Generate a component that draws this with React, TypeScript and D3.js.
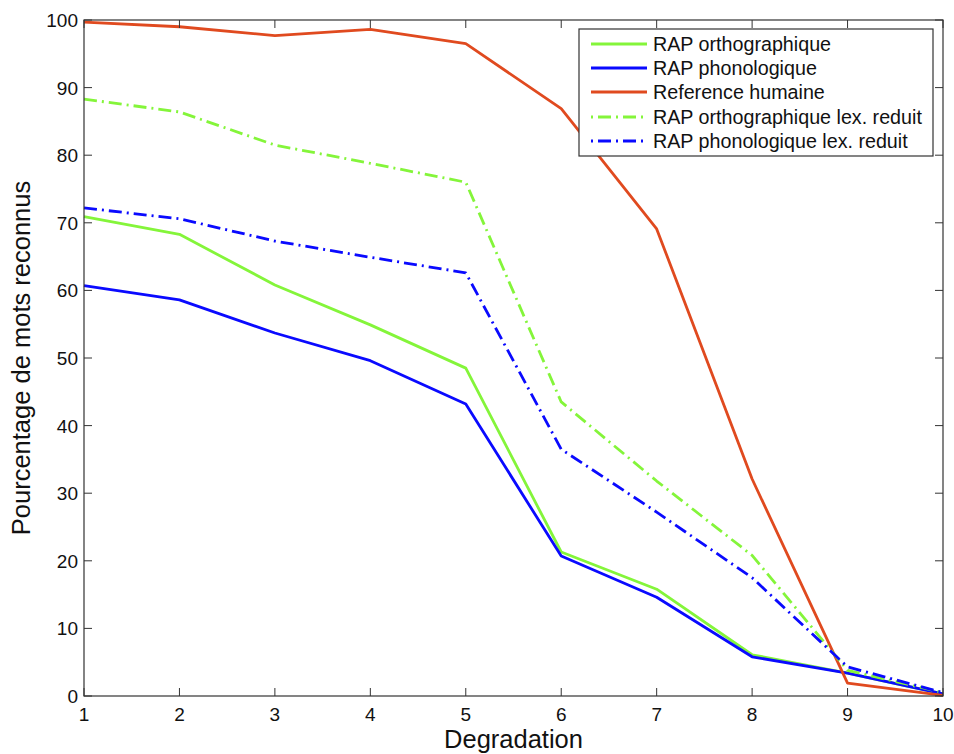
import React from "react";
import * as d3 from "d3";

const degradation = [1, 2, 3, 4, 5, 6, 7, 8, 9, 10];
const rapOrtho = [70.9, 68.3, 60.8, 54.9, 48.5, 21.3, 15.8, 6.1, 3.4, 0.3];
const rapPhono = [60.7, 58.6, 53.7, 49.6, 43.2, 20.7, 14.6, 5.8, 3.4, 0.3];
const refHumaine = [99.7, 99.0, 97.7, 98.6, 96.5, 86.9, 69.1, 32.1, 1.9, 0.1];
const rapOrthoLex = [88.3, 86.4, 81.5, 78.8, 76.0, 43.5, 31.8, 20.8, 3.8, 0.5];
const rapPhonoLex = [72.2, 70.6, 67.3, 64.9, 62.6, 36.5, 27.2, 17.5, 4.3, 0.5];
const yTicks = [0, 10, 20, 30, 40, 50, 60, 70, 80, 90, 100];
const xTicks = [1, 2, 3, 4, 5, 6, 7, 8, 9, 10];
const seriesNames = [
  "RAP orthographique",
  "RAP phonologique",
  "Reference humaine",
  "RAP orthographique lex. reduit",
  "RAP phonologique lex. reduit",
];

const GREEN = "#84f53a";
const BLUE = "#0a0aff";
const RED = "#e04a1f";
const DASHDOT = "13,5,2,5";

export default function App() {
  const W = 954, H = 754;
  const L = 84, R = 943, T = 20, B = 696;
  const x = d3.scaleLinear().domain([1, 10]).range([L, R]);
  const y = d3.scaleLinear().domain([0, 100]).range([B, T]);
  const line = d3.line<number>().x((_, i) => x(degradation[i])).y((d) => y(d));

  const series = [
    { name: seriesNames[0], data: rapOrtho, color: GREEN, dash: undefined },
    { name: seriesNames[1], data: rapPhono, color: BLUE, dash: undefined },
    { name: seriesNames[2], data: refHumaine, color: RED, dash: undefined },
    { name: seriesNames[3], data: rapOrthoLex, color: GREEN, dash: DASHDOT },
    { name: seriesNames[4], data: rapPhonoLex, color: BLUE, dash: DASHDOT },
  ];

  const font = "Liberation Sans, Arial, Helvetica, sans-serif";
  const axisColor = "#333";
  const tickLen = 8;

  const legX = 579, legY = 29, legW = 354, legH = 127;
  const rowY = [44, 68, 92, 117, 141];

  return (
    <svg
      width={W}
      height={H}
      style={{ position: "absolute", left: 0, top: 0, background: "#fff" }}
      fontFamily={font}
    >
      <rect x={0} y={0} width={W} height={H} fill="#fff" />
      {series.map((s) => (
        <path
          key={s.name}
          d={line(s.data) || ""}
          fill="none"
          stroke={s.color}
          strokeWidth={2.8}
          strokeDasharray={s.dash}
          strokeLinejoin="round"
        />
      ))}
      <rect x={L} y={T} width={R - L} height={B - T} fill="none" stroke={axisColor} strokeWidth={1.2} />
      {xTicks.map((t) => (
        <g key={"x" + t}>
          <line x1={x(t)} x2={x(t)} y1={B} y2={B - tickLen} stroke={axisColor} strokeWidth={1} />
          <line x1={x(t)} x2={x(t)} y1={T} y2={T + tickLen} stroke={axisColor} strokeWidth={1} />
          <text x={x(t)} y={B + 25} textAnchor="middle" fontSize={19} fill="#111">
            {t}
          </text>
        </g>
      ))}
      {yTicks.map((t) => (
        <g key={"y" + t}>
          <line x1={L} x2={L + tickLen} y1={y(t)} y2={y(t)} stroke={axisColor} strokeWidth={1} />
          <line x1={R} x2={R - tickLen} y1={y(t)} y2={y(t)} stroke={axisColor} strokeWidth={1} />
          <text x={L - 6} y={y(t) + 7} textAnchor="end" fontSize={19} fill="#111">
            {t}
          </text>
        </g>
      ))}
      <text x={(L + R) / 2} y={748} textAnchor="middle" fontSize={25.5} fill="#111">
        Degradation
      </text>
      <text
        transform={`translate(30, ${(T + B) / 2}) rotate(-90)`}
        textAnchor="middle"
        fontSize={25.5}
        fill="#111"
      >
        Pourcentage de mots reconnus
      </text>
      <rect x={legX} y={legY} width={legW} height={legH} fill="#fff" stroke={axisColor} strokeWidth={1.2} />
      {series.map((s, i) => (
        <g key={"leg" + i}>
          <line
            x1={591}
            x2={647}
            y1={rowY[i]}
            y2={rowY[i]}
            stroke={s.color}
            strokeWidth={2.8}
            strokeDasharray={s.dash ? "2,5,13,5" : undefined}
          />
          <text x={653} y={rowY[i] + 7} fontSize={19.7} fill="#111">
            {s.name}
          </text>
        </g>
      ))}
    </svg>
  );
}
